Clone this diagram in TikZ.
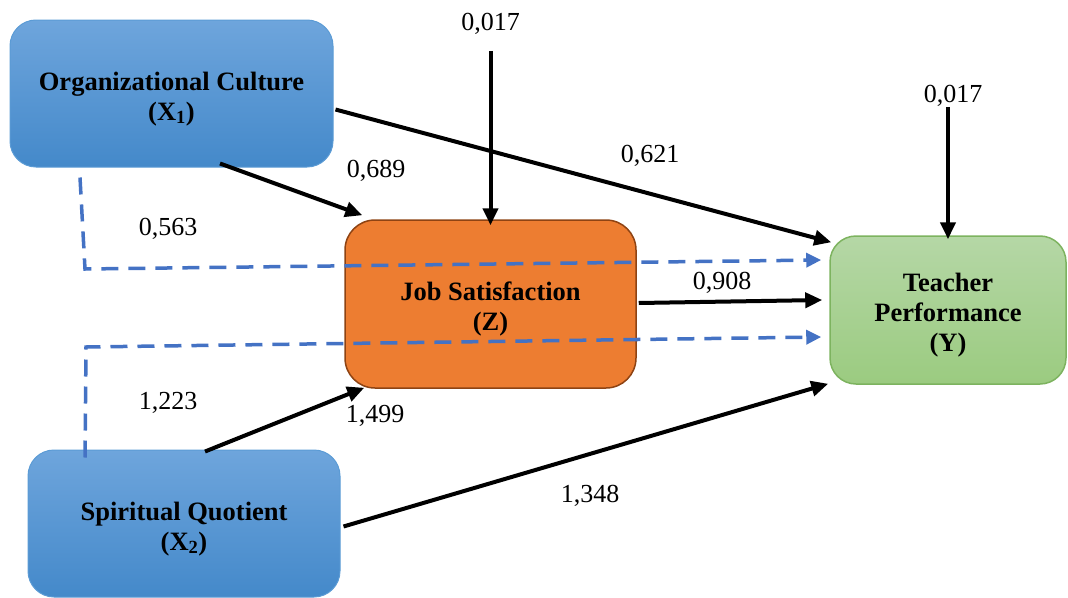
\documentclass[tikz,border=0pt]{standalone}
\usepackage{fontspec}
\setmainfont{Liberation Serif}
\usetikzlibrary{arrows.meta}
\definecolor{bluetop}{HTML}{6EA5DC}
\definecolor{bluebot}{HTML}{4489CA}
\definecolor{blueedge}{HTML}{5B9BD5}
\definecolor{greentop}{HTML}{B5D7A6}
\definecolor{greenbot}{HTML}{9BCB80}
\definecolor{greenedge}{HTML}{7DB35F}
\definecolor{jsfill}{HTML}{ED7D31}
\definecolor{jsedge}{HTML}{8E4313}
\definecolor{dashblue}{HTML}{4472C4}
% pushes the box text a little down
\newcommand{\toppad}{\rule{0pt}{29pt}}
\tikzset{
  varbox/.style={rounded corners=26pt, align=center, inner sep=0pt,
    font=\fontsize{26.5}{30}\selectfont\bfseries},
  bluebox/.style={varbox, draw=blueedge, line width=1pt, top color=bluetop, bottom color=bluebot},
  coef/.style={inner sep=0pt, font=\fontsize{26}{30}\selectfont},
  effect/.style={line width=4pt, -{Triangle[length=17pt,width=15pt]}},
  indirect/.style={dashblue, line width=3.5pt, dash pattern=on 17pt off 10pt,
    -{Triangle[length=15pt,width=14pt]}}
}
\begin{document}
\begin{tikzpicture}[x=1pt,y=-1pt]
        \useasboundingbox (0,0) rectangle (1068,597);
        % Variables
        \node [bluebox, minimum width=323pt, minimum height=147pt] (oc) at (171.5,93.5)
            {\toppad Organizational Culture\\(X\textsubscript{1})};
        \node [bluebox, minimum width=312pt, minimum height=147pt] (sq) at (184,523.5)
            {\toppad Spiritual Quotient\\(X\textsubscript{2})};
        \node [varbox, rounded corners=30pt, draw=jsedge, line width=1.5pt, fill=jsfill,
            minimum width=291pt, minimum height=168pt] (js) at (490.5,304)
            {\toppad Job Satisfaction\\(Z)};
        \node [varbox, draw=greenedge, line width=1.5pt, top color=greentop, bottom color=greenbot,
            minimum width=236pt, minimum height=148pt] (tp) at (948,310)
            {\toppad Teacher\\Performance\\(Y)};
        % Coefficients
        \node [coef] (ejs) at (490.5,24) {0,017};
        \node [coef] (etp) at (953,96) {0,017};
        \node [coef] (b1) at (376,171) {0,689};
        \node [coef] (b2) at (650,156) {0,621};
        \node [coef] (b3) at (168,229) {0,563};
        \node [coef] (b4) at (722,283) {0,908};
        \node [coef] (b5) at (168,403) {1,223};
        \node [coef] (b6) at (375,416) {1,499};
        \node [coef] (b7) at (590,496) {1,348};
        % Direct paths
        \draw [effect] ([xshift=48.5pt,yshift=4pt]oc.south) -- ([xshift=18pt,yshift=4pt]js.north west);
        \draw [effect] ([xshift=2pt,yshift=-16pt]oc.east) -- ([xshift=2pt,yshift=-7pt]tp.north west);
        \draw [effect] ([yshift=-16pt]ejs.south) -- ([yshift=-6pt]js.north);
        \draw [effect] ([xshift=-5pt,yshift=0pt]etp.south) -- ([yshift=-4pt]tp.north);
        \draw [effect] ([xshift=2pt,yshift=1pt]js.east) -- ([xshift=-7pt,yshift=10pt]tp.west);
        \draw [effect] ([xshift=21pt,yshift=-2pt]sq.north) -- ([xshift=20pt,yshift=1pt]js.south west);
        \draw [effect] ([xshift=3pt,yshift=-3pt]sq.east) -- ([xshift=-1pt,yshift=1pt]tp.south west);
        % Indirect paths
        \coordinate (k1) at (85,269);
        \coordinate (k2) at (86,347);
        \draw [indirect] ([xshift=-91.5pt,yshift=-10pt]oc.south) -- (k1) -- ([xshift=-8pt,yshift=50pt]tp.west);
        \draw [indirect] ([xshift=-99pt,yshift=-8pt]sq.north) -- (k2) -- ([xshift=-8pt,yshift=-27pt]tp.west);
    \end{tikzpicture}
\end{document}
